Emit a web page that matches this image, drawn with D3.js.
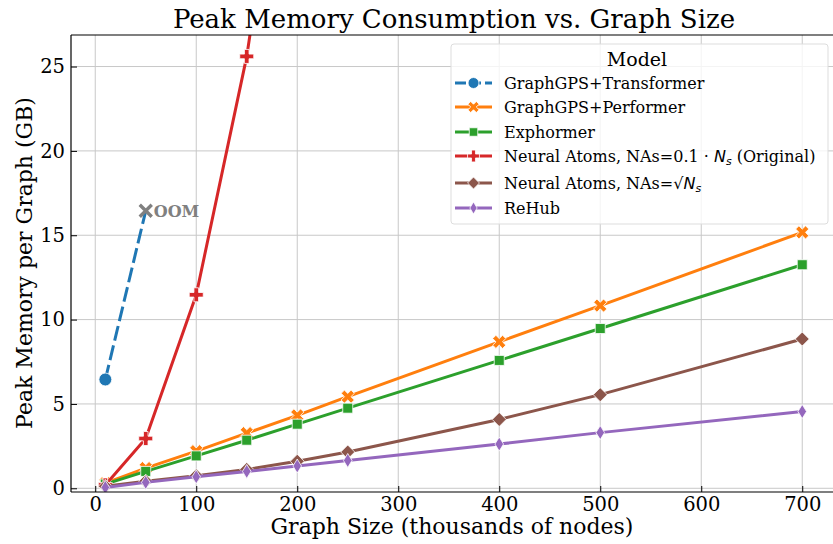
<!DOCTYPE html>
<html>
<head>
<meta charset="utf-8">
<script src="https://cdn.jsdelivr.net/npm/d3@7"></script>
<style>
  body { margin: 0; background: #fff; }
  text { font-family: "DejaVu Serif", serif; fill: #000; }
</style>
</head>
<body>
<svg id="chart" width="833" height="544"></svg>
<script>
// graph sizes (thousands of nodes)
const sizes = [10, 50, 100, 150, 200, 250, 400, 500, 700];

// peak memory per graph (GB)
const transformerX = [10, 50];
const transformerMem = [6.45, 16.45];
const performerMem = [0.3, 1.2, 2.2, 3.27, 4.32, 5.43, 8.68, 10.83, 15.17];
const exphormerMem = [0.25, 1.0, 1.92, 2.85, 3.8, 4.75, 7.58, 9.47, 13.25];
const neuralX = [10, 50, 100, 150, 200];
const neuralMem = [0.2, 2.95, 11.47, 25.6, 45.6];
const neuralSqrtMem = [0.12, 0.42, 0.75, 1.12, 1.6, 2.15, 4.08, 5.55, 8.85];
const rehubMem = [0.05, 0.35, 0.68, 1.0, 1.32, 1.65, 2.62, 3.3, 4.55];

const xTicks = [0, 100, 200, 300, 400, 500, 600, 700];
const yTicks = [0, 5, 10, 15, 20, 25];

const modelNames = [
    "GraphGPS+Transformer",
    "GraphGPS+Performer",
    "Exphormer",
    "Neural Atoms, NAs=0.1·Ns (Original)",
    "Neural Atoms, NAs=√Ns",
    "ReHub"
];
const modelColors = ["#1f77b4", "#ff7f0e", "#2ca02c", "#d62728", "#8c564b", "#9467bd"];
const modelMarkers = ["circle", "x", "square", "plus", "diamond", "thin"];

const series = [
    { xs: transformerX, ys: transformerMem, dashed: true, noLastMarker: true },
    { xs: sizes, ys: performerMem },
    { xs: sizes, ys: exphormerMem },
    { xs: neuralX, ys: neuralMem },
    { xs: sizes, ys: neuralSqrtMem },
    { xs: sizes, ys: rehubMem }
].map((s, i) => Object.assign(s, { name: modelNames[i], color: modelColors[i], marker: modelMarkers[i] }));

const svg = d3.select('#chart');
const plot = {left: 71, top: 35, bottom: 492, right: 838};

const x = d3.scaleLinear().domain([-24, 735]).range([plot.left, plot.left + 759 * 1.01]);
const y = d3.scaleLinear().domain([-0.22, 26.87]).range([plot.bottom, plot.top]);

svg.append('clipPath').attr('id', 'clip')
    .append('rect')
    .attr('x', plot.left).attr('y', plot.top)
    .attr('width', plot.right - plot.left).attr('height', plot.bottom - plot.top);

// grid
const grid = svg.append('g');
grid.selectAll('.gx').data(xTicks).enter().append('line')
    .attr('x1', d => x(d)).attr('x2', d => x(d))
    .attr('y1', plot.top).attr('y2', plot.bottom)
    .attr('stroke', '#c8c8c8').attr('stroke-width', 1);
grid.selectAll('.gy').data(yTicks).enter().append('line')
    .attr('x1', plot.left).attr('x2', plot.right)
    .attr('y1', d => y(d)).attr('y2', d => y(d))
    .attr('stroke', '#c8c8c8').attr('stroke-width', 1);

// marker shapes, centered on 0,0
function markerPath(type, s) {
    s = s || 1;
    if (type === 'circle') return d3.symbol(d3.symbolCircle, 130 * s * s)();
    if (type === 'square') return d3.symbol(d3.symbolSquare, 100 * s * s)();
    if (type === 'diamond') {
        const r = 7 * s;
        return `M0,${-r}L${r},0L0,${r}L${-r},0Z`;
    }
    if (type === 'thin') {
        const r = 7 * s, w = 4.3 * s;
        return `M0,${-r}L${w},0L0,${r}L${-w},0Z`;
    }
    // plus / x : thick cross
    const L = 7 * s, w = 2.3 * s;
    return `M${-w},${-L}H${w}V${-w}H${L}V${w}H${w}V${L}H${-w}V${w}H${-L}V${-w}H${-w}Z`;
}
function markerTransform(type, cx, cy) {
    return type === 'x' ? `translate(${cx},${cy}) rotate(45)` : `translate(${cx},${cy})`;
}

const line = d3.line().x(d => x(d[0])).y(d => y(d[1]));
const body = svg.append('g').attr('clip-path', 'url(#clip)');

series.forEach(s => {
    const pts = s.xs.map((v, i) => [v, s.ys[i]]);
    body.append('path')
        .datum(pts)
        .attr('d', line)
        .attr('fill', 'none')
        .attr('stroke', s.color)
        .attr('stroke-width', 3)
        .attr('stroke-dasharray', s.dashed ? '15,5' : null);
    const mpts = s.noLastMarker ? pts.slice(0, -1) : pts;
    body.selectAll(null).data(mpts).enter().append('path')
        .attr('d', markerPath(s.marker))
        .attr('transform', d => markerTransform(s.marker, x(d[0]), y(d[1])))
        .attr('fill', s.color)
        .attr('stroke', '#fff')
        .attr('stroke-width', 0.8);
});

// OOM marker for GraphGPS+Transformer
const oomX = transformerX[1], oomY = transformerMem[1];
body.append('path')
    .attr('d', `M-6,-6L6,6M-6,6L6,-6`)
    .attr('transform', `translate(${x(oomX)},${y(oomY)})`)
    .attr('stroke', 'gray').attr('stroke-width', 3.4).attr('fill', 'none');
svg.append('text')
    .attr('x', x(oomX) + 8).attr('y', y(oomY) + 6)
    .style('font-size', '16px').style('font-weight', 'bold').style('fill', 'gray')
    .text('OOM');

// spines
svg.append('line').attr('x1', plot.left).attr('x2', plot.left).attr('y1', plot.top).attr('y2', plot.bottom)
    .attr('stroke', '#000').attr('stroke-width', 1.2);
svg.append('line').attr('x1', plot.left).attr('x2', plot.right).attr('y1', plot.bottom).attr('y2', plot.bottom)
    .attr('stroke', '#000').attr('stroke-width', 1.2);
svg.append('line').attr('x1', plot.left).attr('x2', plot.right).attr('y1', plot.top).attr('y2', plot.top)
    .attr('stroke', '#000').attr('stroke-width', 1.2);

// ticks, pointing inward
const xAxis = d3.axisBottom(x).tickValues(xTicks).tickSizeInner(-6).tickSizeOuter(0).tickPadding(5);
const yAxis = d3.axisLeft(y).tickValues(yTicks).tickSizeInner(-6).tickSizeOuter(0).tickPadding(6);
const gx = svg.append('g').attr('transform', `translate(0,${plot.bottom})`).call(xAxis);
const gy = svg.append('g').attr('transform', `translate(${plot.left},0)`).call(yAxis);
[gx, gy].forEach(g => {
    g.select('.domain').remove();
    g.selectAll('line').attr('stroke', '#000').attr('stroke-width', 1);
    g.selectAll('text').style('font-family', '"DejaVu Serif", serif').style('font-size', '19.5px').attr('fill', '#000');
});

// titles
svg.append('text')
    .attr('x', 454).attr('y', 28)
    .attr('text-anchor', 'middle')
    .style('font-size', '26px')
    .text('Peak Memory Consumption vs. Graph Size');
svg.append('text')
    .attr('x', 452).attr('y', 534)
    .attr('text-anchor', 'middle')
    .style('font-size', '22px')
    .text('Graph Size (thousands of nodes)');
svg.append('text')
    .attr('transform', 'translate(32,263) rotate(-90)')
    .attr('text-anchor', 'middle')
    .style('font-size', '22px')
    .text('Peak Memory per Graph (GB)');

// legend
const leg = svg.append('g').attr('transform', 'translate(451,44)');
leg.append('rect')
    .attr('width', 377).attr('height', 180).attr('rx', 3)
    .attr('fill', 'rgba(255,255,255,0.8)')
    .attr('stroke', '#dddddd').attr('stroke-width', 1);
leg.append('text')
    .attr('x', 186).attr('y', 22)
    .attr('text-anchor', 'middle')
    .style('font-size', '19px')
    .text('Model');

const rowY = [39, 63, 88, 112, 139, 164];
series.forEach((s, i) => {
    const row = leg.append('g').attr('transform', `translate(0,${rowY[i]})`);
    row.append('line')
        .attr('x1', 4).attr('x2', 41)
        .attr('stroke', s.color).attr('stroke-width', 3)
        .attr('stroke-dasharray', s.dashed ? '11,4' : null);
    row.append('path')
        .attr('d', markerPath(s.marker, 0.85))
        .attr('transform', markerTransform(s.marker, 22.5, 0))
        .attr('fill', s.color)
        .attr('stroke', '#fff').attr('stroke-width', 0.8);
    const t = row.append('text').attr('x', 53).attr('y', 5.5).style('font-size', '16px');
    if (i === 3) {
        t.append('tspan').text('Neural Atoms, NAs=0.1 · ');
        t.append('tspan').style('font-style', 'italic').style('font-family', '"DejaVu Sans", sans-serif').text('N');
        t.append('tspan').style('font-style', 'italic').style('font-family', '"DejaVu Sans", sans-serif').style('font-size', '11px').attr('dy', 3).text('s');
        t.append('tspan').attr('dy', -3).text(' (Original)');
    } else if (i === 4) {
        t.append('tspan').text('Neural Atoms, NAs=√');
        t.append('tspan').style('font-style', 'italic').style('font-family', '"DejaVu Sans", sans-serif').text('N');
        t.append('tspan').style('font-style', 'italic').style('font-family', '"DejaVu Sans", sans-serif').style('font-size', '11px').attr('dy', 3).text('s');
    } else {
        t.text(s.name);
    }
});
</script>
</body>
</html>
